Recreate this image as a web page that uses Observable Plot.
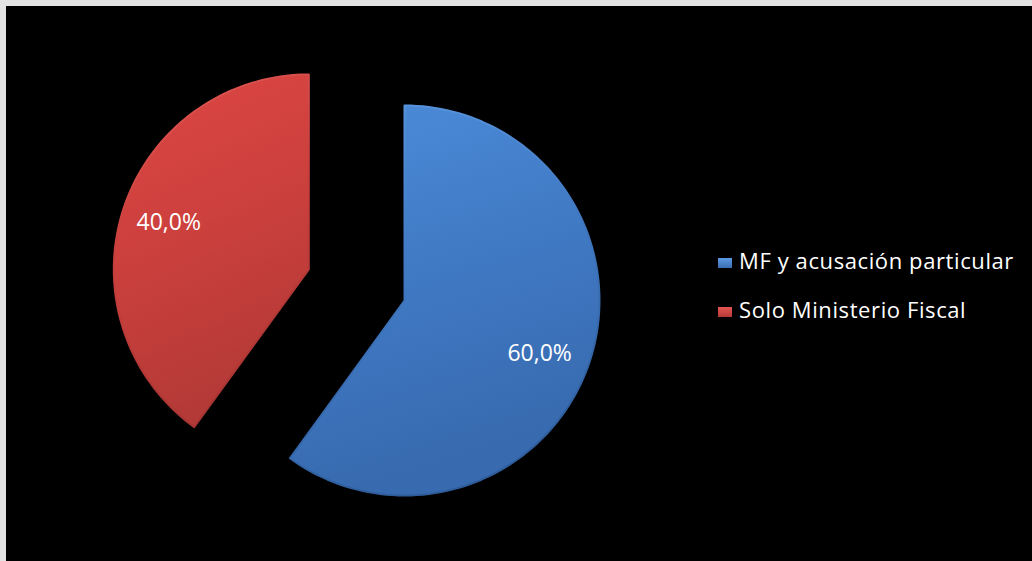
<!DOCTYPE html>
<html>
<head>
<meta charset="utf-8">
<script src="https://cdn.jsdelivr.net/npm/d3@7"></script>
<script src="https://cdn.jsdelivr.net/npm/@observablehq/plot@0.6"></script>
<style>
  html, body { margin: 0; padding: 0; background: #e3e3e3; }
  #frame { position: relative; width: 1026px; height: 555px; margin: 6px 0 0 6px; background: #000; overflow: hidden; }
  #chart svg { display: block; background: #000; }
  .legend { position: absolute; left: 712px; top: 0; font-family: "Open Sans", sans-serif; font-size: 22px; letter-spacing: 0.6px; color: #fff; line-height: 30px; white-space: nowrap; }
  .legend .row { position: absolute; left: 0; display: flex; align-items: center; }
  .legend .sw { width: 14px; height: 10px; margin-right: 7px; position: relative; top: 3.5px; }
</style>
</head>
<body>
<div id="frame">
  <div id="chart"></div>
  <div class="legend" id="legend"></div>
</div>
<script>
// ---- data ----
const categories = ["MF y acusación particular", "Solo Ministerio Fiscal"];
const values = [60.0, 40.0];
const labels = ["60,0%", "40,0%"];

// ---- styling / layout options ----
const colors = ["url(#gBlue)", "url(#gRed)"];
const swatchGrad = ["linear-gradient(#5d9ae2, #3a6db3)", "linear-gradient(#e25552, #b53a37)"];
const explode = [0, 0.516];   // fraction of radius
const labelShift = [[-4, 8], [-1, -2]]; // px nudges for label placement
const W = 1026, H = 555;
const R = 195;                // pixel radius
const cx = 398, cy = 294;     // pie centre in px

// ---- geometry from data ----
const arcs = d3.pie().sort(null).startAngle(0).endAngle(2 * Math.PI)(values);
const slices = arcs.map((a, i) => {
  const mid = (a.startAngle + a.endAngle) / 2;
  const ox = explode[i] * Math.sin(mid), oy = explode[i] * Math.cos(mid);
  const pts = [{x: ox, y: oy}];
  const n = 120;
  for (let k = 0; k <= n; k++) {
    const t = a.startAngle + (a.endAngle - a.startAngle) * k / n;
    pts.push({x: ox + Math.sin(t), y: oy + Math.cos(t)});
  }
  pts.push({x: ox, y: oy});
  return {pts, label: {x: ox + 0.75 * Math.sin(mid), y: oy + 0.75 * Math.cos(mid), text: labels[i]}};
});

const marks = [];
slices.forEach((s, i) => {
  marks.push(Plot.line(s.pts, {x: "x", y: "y", fill: colors[i], stroke: "url(#gEdge" + i + ")", strokeWidth: 2, strokeLinejoin: "round"}));
});
slices.forEach((s, i) => {
  marks.push(Plot.text([s.label], {
    x: "x", y: "y", text: "text", fill: "#fff", fontSize: 23,
    fontFamily: "Open Sans, sans-serif", textAnchor: "middle",
    dx: labelShift[i][0], dy: labelShift[i][1]
  }));
});

const plot = Plot.plot({
  width: W, height: H,
  margin: 0,
  style: {background: "#000"},
  x: {domain: [-cx / R, (W - cx) / R], axis: null},
  y: {domain: [-(H - cy) / R, cy / R], axis: null},
  marks
});

const defs = d3.select(plot).insert("defs", ":first-child");
function grad(id, stops) {
  const g = defs.append("linearGradient").attr("id", id)
    .attr("x1", 0).attr("y1", 0).attr("x2", 0.25).attr("y2", 1);
  stops.forEach(([o, c]) => g.append("stop").attr("offset", o).attr("stop-color", c));
}
grad("gBlue", [[0, "#4c8cda"], [0.5, "#4079c4"], [1, "#376aae"]]);
grad("gRed", [[0, "#dd4643"], [0.5, "#cc403d"], [1, "#b43a37"]]);
grad("gEdge0", [[0, "#5d9ae2"], [0.5, "#3f76bf"], [1, "#2f5d9c"]]);
grad("gEdge1", [[0, "#e45a57"], [0.5, "#c63e3b"], [1, "#a63533"]]);

document.getElementById("chart").appendChild(plot);

// legend
const lg = document.getElementById("legend");
categories.forEach((c, i) => {
  const row = document.createElement("div");
  row.className = "row";
  row.style.top = (238.5 + i * 49) + "px";
  const sw = document.createElement("span");
  sw.className = "sw";
  sw.style.background = swatchGrad[i];
  const tx = document.createElement("span");
  tx.textContent = c;
  row.appendChild(sw); row.appendChild(tx);
  lg.appendChild(row);
});
</script>
</body>
</html>
